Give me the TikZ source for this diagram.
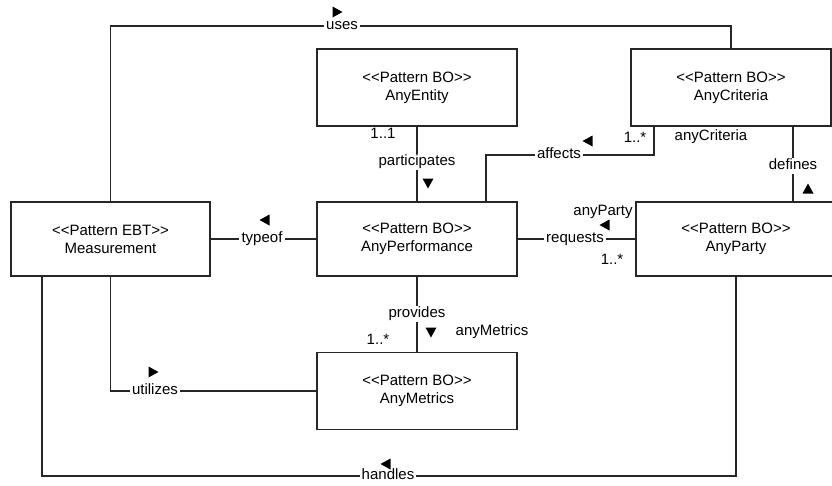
\documentclass[tikz,border=0pt]{standalone}
\usepackage{fontspec}
\setmainfont{Liberation Sans}
\usetikzlibrary{positioning}

\newcommand{\diagfont}{\fontsize{15}{18}\selectfont}
% << et >> sans ligature
\newcommand{\stereo}[1]{<\kern0pt<#1>\kern0pt>}

\begin{document}
\begin{tikzpicture}[x=1pt,y=-1pt,
	classe/.style={rectangle,draw=black!85,line width=1.3pt,minimum width=200pt,minimum height=77pt,align=center,font=\diagfont},
	lien/.style={draw=black!85,line width=1.3pt},
	etiq/.style={fill=white,inner sep=2pt,text height=10pt,text depth=2.2pt,font=\diagfont},
	role/.style={inner sep=0pt,font=\diagfont},
	dirmark/.pic={\fill (5.5,0) -- (-4.5,-5.5) -- (-4.5,5.5) -- cycle;}]
	\useasboundingbox (0,0) rectangle (832,485);
	% les classes
	\node (MEAS) at (110.5,239) [classe,minimum width=199pt,minimum height=74pt] {\stereo{Pattern EBT}\\Measurement};
	\node (ENT) at (417,87.5) [classe] {\stereo{Pattern BO}\\AnyEntity};
	\node (CRIT) at (731,87.5) [classe] {\stereo{Pattern BO}\\AnyCriteria};
	\node (PERF) at (417,239) [classe,minimum height=74pt] {\stereo{Pattern BO}\\AnyPerformance};
	\node (PARTY) at (736,239) [classe,minimum height=74pt] {\stereo{Pattern BO}\\AnyParty};
	\node (MET) at (417,391) [classe] {\stereo{Pattern BO}\\AnyMetrics};
	% noms des associations
	\node (USES) at (342,26) [etiq] {uses};
	\node (TYPEOF) at (262,239) [etiq] {typeof};
	\node (PART) at (417,162) [etiq] {participates};
	\node (AFF) at (559,155) [etiq] {affects};
	\node (DEF) at (793,166) [etiq] {defines};
	\node (REQ) at (575,239) [etiq] {requests};
	\node (PROV) at (417,314) [etiq] {provides};
	\node (UTIL) at (155,391) [etiq] {utilizes};
	\node (HAND) at (388,476) [etiq] {handles};
	% roles et multiplicites
	\node (M1) at (383,133) [role] {1..1};
	\node (M2) at (635,137) [role] {1..*};
	\node (R1) at (711,137) [role] {anyCriteria};
	\node (R2) at (603,212) [role] {anyParty};
	\node (M3) at (612,259) [role] {1..*};
	\node (R3) at (492,332) [role] {anyMetrics};
	\node (M4) at (378,339) [role] {1..*};
	% les associations
	\path[lien] (MEAS) |- (USES) -| (CRIT);
	\path[lien] (MEAS) -- (TYPEOF) -- (PERF);
	\path[lien] (ENT) -- (PART) -- (PERF);
	\path[lien] ([xshift=69pt]PERF.north) |- (AFF) -| ([xshift=-77pt]CRIT.south);
	\path[lien] (DEF |- CRIT.south) -- (DEF) -- (DEF |- PARTY.north);
	\path[lien] (PERF) -- (REQ) -- (PARTY);
	\path[lien] (PERF) -- (PROV) -- (MET);
	\path[lien] (MEAS) |- (UTIL) -- (UTIL -| MET.west);
	\path[lien] ([xshift=-68.5pt]MEAS.south) |- (HAND) -| (PARTY.south);
	% sens de lecture
	\pic at (337,12) {dirmark};
	\pic[rotate=180] at (265,220) {dirmark};
	\pic[rotate=-90] at (428,183) {dirmark};
	\pic[rotate=180] at (588,141) {dirmark};
	\pic[rotate=90] at (808,189) {dirmark};
	\pic[rotate=180] at (605,225) {dirmark};
	\pic[rotate=-90] at (431,332) {dirmark};
	\pic at (153,372) {dirmark};
	\pic[rotate=180] at (386,464) {dirmark};
\end{tikzpicture}
\end{document}
